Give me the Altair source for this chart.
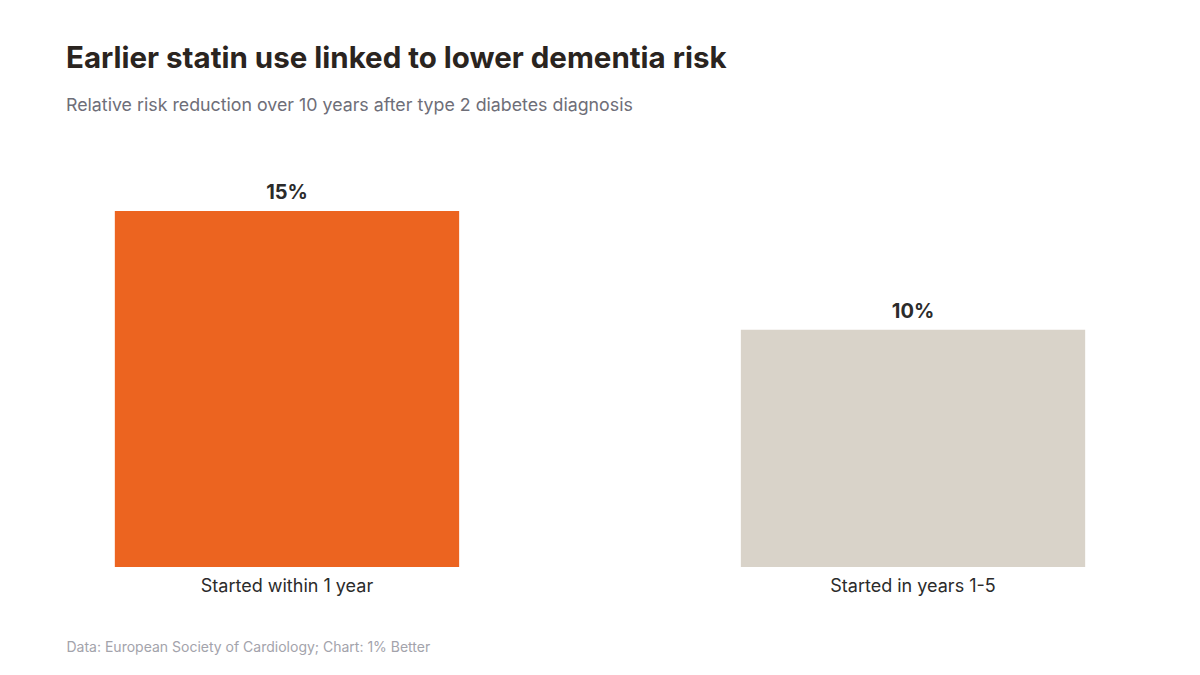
import altair as alt
import pandas as pd

categories = ["Started within 1 year", "Started in years 1-5"]
values = [15, 10]
labels = ["15%", "10%"]
colors = ["#EC6420", "#D9D3C9"]

df = pd.DataFrame({"cat": categories, "val": values, "label": labels, "color": colors})

FONT = "Inter"

base = alt.Chart(df).encode(
    x=alt.X("cat:N", sort=categories,
            scale=alt.Scale(paddingInner=0.45, paddingOuter=0.078),
            axis=alt.Axis(title="Data: European Society of Cardiology; Chart: 1% Better",
                          titleAnchor="start", titleAlign="left", titleX=0, titleY=84,
                          titleBaseline="alphabetic",
                          titleFont=FONT, titleFontSize=14, titleFontWeight="normal",
                          titleColor="#A3A3AB",
                          labelAngle=0, labelFont=FONT, labelFontSize=18,
                          labelColor="#2B2B2B", labelPadding=10,
                          domain=False, ticks=False, grid=False)),
)

bars = base.mark_bar().encode(
    y=alt.Y("val:Q", scale=alt.Scale(domain=[0, 15], nice=False), axis=None),
    color=alt.Color("color:N", scale=None),
)

text = base.mark_text(baseline="alphabetic", dy=-12, font=FONT, fontSize=20,
                      fontWeight="bold", color="#2B2B2B").encode(
    y=alt.Y("val:Q"),
    text="label:N",
)

chart = (bars + text).properties(
    width=1068, height=356,
    background="white",
    autosize=alt.AutoSizeParams(type="none"),
    padding={"left": 58, "top": 203, "right": 58, "bottom": 100},
    title=alt.TitleParams(
        text="Earlier statin use linked to lower dementia risk",
        subtitle="Relative risk reduction over 10 years after type 2 diabetes diagnosis",
        anchor="start", frame="group", offset=67,
        font=FONT, fontSize=29.5, fontWeight="bold", color="#2A2420",
        subtitleFont=FONT, subtitleFontSize=17.8, subtitleColor="#6E6E78",
        subtitlePadding=23,
    ),
).configure_view(stroke=None)

chart.save("out.html", embed_options={"renderer": "svg", "actions": False})
